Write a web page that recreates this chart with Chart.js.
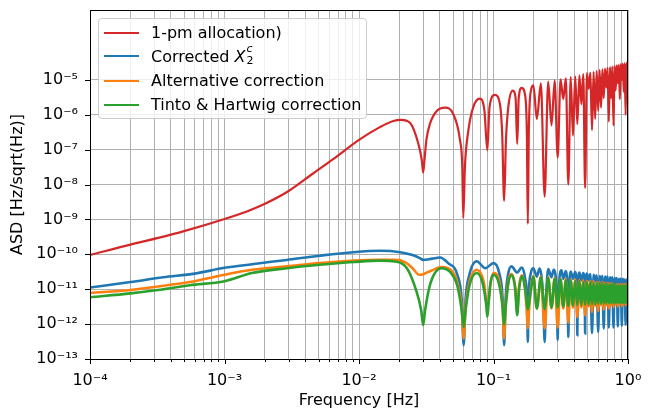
<!DOCTYPE html>
<html>
<head>
<meta charset="utf-8">
<script src="https://cdn.jsdelivr.net/npm/chart.js@4"></script>
<style>
  body { margin: 0; background: #fff; }
  #wrap { position: relative; width: 653px; height: 412px; }
  #legend {
    position: absolute; left: 98px; top: 18px; width: 267px; height: 99px;
    background: rgba(255,255,255,0.8); border: 1px solid #cccccc; border-radius: 4px;
    font-family: 'DejaVu Sans', sans-serif; font-size: 16px; color: #000;
  }
  .row { position: absolute; left: 0; height: 20px; width: 100%; }
  .row .sw { position: absolute; left: 5px; top: 9px; width: 35px; height: 2px; }
  .row .tx { position: absolute; left: 52px; top: 0px; line-height: 19px; white-space: nowrap; }
  .ss { display: inline-block; position: relative; width: 10px; height: 16px; }
  .ss span { position: absolute; left: 1px; font-size: 11px; line-height: 11px; font-style: italic; }
  .ss .up { top: -3px; }
  .ss .dn { top: 9px; font-style: normal; }
</style>
</head>
<body>
<div id="wrap">
  <canvas id="myChart" width="653" height="412"></canvas>
  <div id="legend"></div>
</div>
<script>
// [frequency Hz, ASD] pairs
var allocation = [
  [1e-4, 9.5e-11], [2e-4, 1.9e-10], [3.16e-4, 2.9e-10], [5e-4, 4.6e-10], [1e-3, 1.03e-9],
  [1.5e-3, 1.75e-9], [2e-3, 2.8e-9], [3e-3, 6.5e-9], [4.5e-3, 2e-8], [6.5e-3, 5.5e-8],
  [1e-2, 1.9e-7], [0.0143, 4.4e-7], [0.018, 6.6e-7],
  [0.0205, 7.1e-7], [0.024, 5.8e-7], [0.0276, 1.5e-7], [0.0293, 5e-8], [0.030, 2.2e-8],
  [0.0308, 6e-8], [0.0317, 1.9e-7], [0.0337, 5.5e-7], [0.038, 1.3e-6], [0.0436, 1.6e-6],
  [0.050, 1.07e-6], [0.0563, 1.9e-7], [0.0586, 3.2e-8], [0.0596, 1.1e-9], [0.0613, 3.2e-8],
  [0.065, 3.5e-7], [0.0707, 1.65e-6], [0.079, 2.9e-6], [0.0856, 1.3e-6], [0.090, 9.5e-8],
  [0.0934, 1.65e-6], [0.1025, 3.7e-6], [0.1117, 2e-6], [0.116, 2.9e-7], [0.120, 3.4e-9],
  [0.1238, 1.9e-7], [0.1288, 1.65e-6], [0.139, 4.9e-6], [0.146, 3e-6], [0.150, 1.45e-7],
  [0.154, 3e-6], [0.162, 5.9e-6], [0.172, 3.5e-6], [0.177, 3e-7], [0.180, 7.4e-10],
  [0.183, 3e-7], [0.190, 5e-6], [0.198, 6.9e-6], [0.21, 7.6e-7], [0.225, 7.9e-6],
  [0.24, 4.5e-9], [0.255, 8.9e-6], [0.27, 4.9e-7], [0.285, 9.5e-6], [0.30, 5.9e-8],
  [0.315, 1.03e-5], [0.33, 2.8e-6], [0.345, 1.1e-5], [0.36, 1e-8], [0.375, 1.2e-5],
  [0.39, 2.5e-7], [0.405, 1.25e-5], [0.42, 5.4e-7], [0.435, 1.35e-5], [0.45, 2e-6],
  [0.465, 1.45e-5], [0.48, 8e-9], [0.495, 1.55e-5], [0.51, 5.5e-6], [0.525, 1.6e-5],
  [0.54, 3.6e-7], [0.555, 1.7e-5], [0.57, 7.6e-7], [0.585, 1.8e-5], [0.60, 1.3e-6],
  [0.615, 1.9e-5], [0.63, 1.6e-6], [0.645, 2e-5], [0.66, 3e-6], [0.675, 2.1e-5],
  [0.69, 6e-6], [0.705, 2.2e-5], [0.72, 6.3e-7], [0.735, 2.3e-5], [0.75, 3e-6],
  [0.765, 2.4e-5], [0.78, 4.9e-7], [0.795, 2.5e-5], [0.81, 5e-6], [0.825, 2.6e-5],
  [0.84, 8e-6], [0.855, 2.7e-5], [0.87, 2.8e-6], [0.885, 2.8e-5], [0.90, 1e-5],
  [0.915, 2.9e-5], [0.93, 4.5e-6], [0.945, 3e-5], [0.96, 1e-6], [0.975, 3.1e-5],
  [0.99, 8e-6], [1.0, 3.2e-5]
];
var correctedX2c = [
  [1e-4, 1.12e-11], [2e-4, 1.6e-11], [3.5e-4, 2.2e-11], [6e-4, 2.8e-11], [1e-3, 4.1e-11],
  [1.6e-3, 5.2e-11], [2.9e-3, 6.9e-11], [5.1e-3, 9.1e-11], [9.1e-3, 1.15e-10], [0.0143, 1.26e-10],
  [0.0202, 1.15e-10], [0.025, 9.5e-11], [0.0283, 7.8e-11], [0.030, 6.9e-11], [0.035, 7.5e-11],
  [0.040, 8.1e-11], [0.046, 5.6e-11], [0.054, 2.5e-11], [0.058, 5e-12], [0.060, 2.5e-13],
  [0.062, 5e-12], [0.066, 2.5e-11], [0.075, 6.3e-11], [0.087, 4e-11], [0.100, 5.6e-11],
  [0.110, 3e-11], [0.117, 5e-12], [0.120, 2.5e-13], [0.123, 5e-12], [0.128, 2.5e-11],
  [0.136, 4.5e-11], [0.150, 3e-11], [0.162, 4.2e-11], [0.172, 2e-11], [0.178, 4e-12],
  [0.180, 3.1e-13], [0.182, 4e-12], [0.190, 3e-11], [0.198, 4e-11], [0.21, 2.3e-11],
  [0.22, 3.9e-11], [0.235, 4e-12], [0.24, 3.1e-13], [0.245, 4e-12], [0.255, 3.8e-11],
  [0.27, 2.2e-11], [0.28, 3.6e-11], [0.297, 4e-12], [0.30, 3.5e-13], [0.303, 4e-12],
  [0.32, 3.5e-11], [0.33, 2e-11], [0.345, 3.3e-11], [0.357, 4e-12], [0.36, 4.3e-13],
  [0.363, 4e-12], [0.375, 3.2e-11], [0.39, 2e-11], [0.405, 3.1e-11], [0.418, 4e-12],
  [0.42, 4.8e-13], [0.422, 4e-12], [0.435, 3e-11], [0.45, 1.8e-11], [0.465, 2.9e-11],
  [0.478, 5e-12], [0.48, 5.4e-13], [0.482, 5e-12], [0.495, 2.8e-11], [0.51, 1.8e-11],
  [0.525, 2.7e-11], [0.54, 5.5e-13], [0.555, 2.6e-11], [0.57, 1.7e-11], [0.585, 2.5e-11],
  [0.60, 6e-13], [0.615, 2.4e-11], [0.63, 1.6e-11], [0.645, 2.4e-11], [0.66, 7.5e-13],
  [0.675, 2.3e-11], [0.69, 1.5e-11], [0.705, 2.3e-11], [0.72, 8e-13], [0.735, 2.2e-11],
  [0.75, 1.5e-11], [0.765, 2.2e-11], [0.78, 8e-13], [0.795, 2.1e-11], [0.81, 1.4e-11],
  [0.825, 2.1e-11], [0.84, 8.5e-13], [0.855, 2e-11], [0.87, 1.4e-11], [0.885, 2e-11],
  [0.90, 9e-13], [0.915, 2e-11], [0.93, 1.3e-11], [0.945, 1.9e-11], [0.96, 9.6e-13],
  [0.975, 1.9e-11], [0.99, 1.3e-11], [1.0, 1.9e-11]
];
var alternative = [
  [1e-4, 7.9e-12], [2e-4, 9.5e-12], [3.2e-4, 1.2e-11], [5.5e-4, 1.6e-11], [1e-3, 2.6e-11],
  [1.6e-3, 3.6e-11], [2.9e-3, 4.5e-11], [5.1e-3, 5.6e-11], [9.1e-3, 6.6e-11], [0.0143, 6.9e-11],
  [0.0185, 6.9e-11], [0.022, 6e-11], [0.025, 4e-11], [0.028, 2.6e-11], [0.030, 2.7e-11],
  [0.035, 3.5e-11], [0.041, 4.3e-11], [0.048, 3.6e-11], [0.054, 1.5e-11], [0.058, 3e-12],
  [0.060, 3.9e-13], [0.062, 3e-12], [0.066, 1.5e-11], [0.075, 3.6e-11], [0.085, 1.5e-11],
  [0.090, 3e-12], [0.095, 1.5e-11], [0.100, 2.9e-11], [0.110, 1.8e-11], [0.117, 3e-12],
  [0.120, 3.9e-13], [0.123, 3e-12], [0.130, 2e-11], [0.136, 2.7e-11], [0.145, 1.2e-11],
  [0.150, 2.5e-12], [0.155, 1.2e-11], [0.162, 2.5e-11], [0.172, 1e-11], [0.177, 2e-12],
  [0.180, 7.5e-13], [0.183, 2e-12], [0.190, 1.2e-11], [0.198, 2.4e-11], [0.21, 2.8e-12],
  [0.225, 2.3e-11], [0.24, 7.5e-13], [0.255, 2.2e-11], [0.27, 2.8e-12], [0.285, 2.1e-11],
  [0.30, 8e-13], [0.315, 2e-11], [0.33, 2.8e-12], [0.345, 2e-11], [0.36, 1.1e-12],
  [0.375, 1.9e-11], [0.39, 3e-12], [0.405, 1.9e-11], [0.42, 1.6e-12], [0.435, 1.8e-11],
  [0.45, 3e-12], [0.465, 1.8e-11], [0.48, 1.8e-12], [0.495, 1.7e-11], [0.51, 3.2e-12],
  [0.525, 1.7e-11], [0.54, 2.2e-12], [0.555, 1.7e-11], [0.57, 3.3e-12], [0.585, 1.6e-11],
  [0.60, 2.4e-12], [0.615, 1.6e-11], [0.63, 3.4e-12], [0.645, 1.6e-11], [0.66, 2.6e-12],
  [0.675, 1.5e-11], [0.69, 3.5e-12], [0.705, 1.5e-11], [0.72, 2.8e-12], [0.735, 1.5e-11],
  [0.75, 3.5e-12], [0.765, 1.5e-11], [0.78, 3e-12], [0.795, 1.4e-11], [0.81, 3.6e-12],
  [0.825, 1.4e-11], [0.84, 3.1e-12], [0.855, 1.4e-11], [0.87, 3.7e-12], [0.885, 1.4e-11],
  [0.90, 3.2e-12], [0.915, 1.4e-11], [0.93, 3.8e-12], [0.945, 1.4e-11], [0.96, 3.4e-12],
  [0.975, 1.4e-11], [0.99, 3.8e-12], [1.0, 1.4e-11]
];
var tintoHartwig = [
  [1e-4, 5.9e-12], [2e-4, 7.6e-12], [3.2e-4, 9.5e-12], [5.5e-4, 1.3e-11], [1e-3, 1.7e-11],
  [1.6e-3, 2.9e-11], [2.9e-3, 4e-11], [5.1e-3, 5e-11], [9.1e-3, 6e-11], [0.0143, 6.6e-11],
  [0.0185, 6.2e-11], [0.0227, 4e-11], [0.0266, 9.3e-12], [0.029, 2.5e-12], [0.030, 9.3e-13],
  [0.031, 2.5e-12], [0.034, 1.5e-11], [0.041, 4e-11], [0.048, 3e-11], [0.054, 1.2e-11],
  [0.058, 2.5e-12], [0.060, 8.3e-13], [0.062, 2.5e-12], [0.066, 1.2e-11], [0.075, 2.9e-11],
  [0.083, 1.5e-11], [0.088, 4e-12], [0.090, 1.6e-12], [0.092, 4e-12], [0.095, 1.5e-11],
  [0.100, 2.6e-11], [0.110, 1.4e-11], [0.117, 3e-12], [0.120, 9.6e-13], [0.123, 3e-12],
  [0.130, 1.8e-11], [0.137, 2.5e-11], [0.145, 1e-11], [0.150, 1.8e-12], [0.155, 1e-11],
  [0.163, 2.4e-11], [0.172, 1e-11], [0.180, 2.6e-12], [0.190, 1e-11], [0.198, 2.3e-11],
  [0.21, 2.8e-12], [0.225, 2.2e-11], [0.24, 2.7e-12], [0.255, 2.1e-11], [0.27, 3e-12],
  [0.285, 2e-11], [0.30, 3e-12], [0.315, 1.9e-11], [0.33, 3.2e-12], [0.345, 1.8e-11],
  [0.36, 3.3e-12], [0.375, 1.8e-11], [0.39, 3.4e-12], [0.405, 1.7e-11], [0.42, 3.5e-12],
  [0.435, 1.7e-11], [0.45, 3.5e-12], [0.465, 1.6e-11], [0.48, 3.6e-12], [0.495, 1.6e-11],
  [0.51, 3.6e-12], [0.525, 1.6e-11], [0.54, 3.7e-12], [0.555, 1.5e-11], [0.57, 3.7e-12],
  [0.585, 1.5e-11], [0.60, 3.8e-12], [0.615, 1.5e-11], [0.63, 3.8e-12], [0.645, 1.5e-11],
  [0.66, 3.8e-12], [0.675, 1.4e-11], [0.69, 3.9e-12], [0.705, 1.4e-11], [0.72, 3.9e-12],
  [0.735, 1.4e-11], [0.75, 3.9e-12], [0.765, 1.4e-11], [0.78, 4e-12], [0.795, 1.4e-11],
  [0.81, 4e-12], [0.825, 1.3e-11], [0.84, 4e-12], [0.855, 1.3e-11], [0.87, 4e-12],
  [0.885, 1.3e-11], [0.90, 4e-12], [0.915, 1.3e-11], [0.93, 4e-12], [0.945, 1.3e-11],
  [0.96, 4e-12], [0.975, 1.3e-11], [0.99, 4e-12], [1.0, 1.3e-11]
];

var seriesNames = ['1-pm allocation)', 'Corrected X₂ᶜ', 'Alternative correction', 'Tinto & Hartwig correction'];
var seriesColors = ['#d62728', '#1f77b4', '#ff7f0e', '#2ca02c'];

// axis ticks
var xDecades = [1e-4, 1e-3, 1e-2, 1e-1, 1];
var xMinorSteps = [2, 3, 4, 5, 6, 7, 8, 9];
var yDecades = [1e-13, 1e-12, 1e-11, 1e-10, 1e-9, 1e-8, 1e-7, 1e-6, 1e-5];

var sup = { '-': '⁻', '0': '⁰', '1': '¹', '2': '²', '3': '³', '4': '⁴', '5': '⁵', '6': '⁶', '7': '⁷', '8': '⁸', '9': '⁹' };
function powLabel(v) {
    var e = String(Math.round(Math.log10(v)));
    return '10' + e.split('').map(function (c) { return sup[c]; }).join('');
}
function isDecade(v) {
    return Math.abs(Math.log10(v) - Math.round(Math.log10(v))) < 1e-6;
}

var xTicks = [];
xDecades.forEach(function (d, i) {
    xTicks.push(d);
    if (i < xDecades.length - 1) xMinorSteps.forEach(function (m) { xTicks.push(d * m); });
});

function toXY(pairs) {
    return pairs.map(function (p) { return { x: p[0], y: p[1] }; });
}

var frame = {
    id: 'frame',
    afterDraw: function (chart) {
        var ctx = chart.ctx, a = chart.chartArea, x = chart.scales.x, y = chart.scales.y;
        ctx.save();
        ctx.strokeStyle = '#000';
        ctx.lineWidth = 1;
        ctx.beginPath();
        x.ticks.forEach(function (t) {
            var px = Math.round(x.getPixelForValue(t.value)) + 0.5;
            ctx.moveTo(px, a.bottom);
            ctx.lineTo(px, a.bottom + (t.major ? 5 : 3));
        });
        y.ticks.forEach(function (t) {
            var py = Math.round(y.getPixelForValue(t.value)) + 0.5;
            ctx.moveTo(a.left, py);
            ctx.lineTo(a.left - 5, py);
        });
        ctx.stroke();
        ctx.strokeRect(a.left + 0.5, a.top + 0.5, a.right - a.left - 1, a.bottom - a.top);
        ctx.restore();
    }
};

Chart.defaults.font.family = "'DejaVu Sans', sans-serif";
Chart.defaults.font.size = 16;
Chart.defaults.color = '#000';

var chart1 = document.getElementById('myChart');
var myChart = new Chart(chart1, {
    type: 'line',
    data: {
        datasets: [allocation, correctedX2c, alternative, tintoHartwig].map(function (s, i) {
            return {
                label: seriesNames[i],
                data: toXY(s),
                borderColor: seriesColors[i],
                backgroundColor: seriesColors[i],
                borderWidth: i === 0 ? 2.2 : 2.6,
                pointRadius: 0,
                cubicInterpolationMode: 'monotone',
                order: 4 - i
            };
        })
    },
    options: {
        responsive: false,
        animation: false,
        devicePixelRatio: 1,
        parsing: false,
        layout: { padding: { top: 10, right: 25, left: 0, bottom: 0 } },
        plugins: {
            legend: { display: false },
            tooltip: { enabled: false }
        },
        scales: {
            x: {
                type: 'logarithmic',
                min: 1e-4,
                max: 1,
                afterBuildTicks: function (scale) {
                    scale.ticks = xTicks.map(function (v) { return { value: v, major: isDecade(v) }; });
                },
                afterFit: function (scale) {
                    scale.height = 53;
                    scale.paddingLeft = 0;
                    scale.paddingRight = 0;
                },
                ticks: {
                    autoSkip: false,
                    maxRotation: 0,
                    padding: 12,
                    callback: function (v) { return isDecade(v) ? powLabel(v) : ''; }
                },
                grid: { color: '#b0b0b0', lineWidth: 1, drawTicks: false },
                border: { display: false },
                title: { display: true, text: 'Frequency [Hz]', padding: { top: 2, bottom: 2 } }
            },
            y: {
                type: 'logarithmic',
                min: 1e-13,
                max: 1e-3,
                afterBuildTicks: function (scale) {
                    scale.ticks = yDecades.map(function (v) { return { value: v, major: true }; });
                },
                afterFit: function (scale) {
                    scale.width = 90;
                    scale.paddingTop = 0;
                    scale.paddingBottom = 0;
                },
                ticks: {
                    autoSkip: false,
                    padding: 12,
                    callback: function (v) { return powLabel(v); }
                },
                grid: { color: '#b0b0b0', lineWidth: 1, drawTicks: false },
                border: { display: false },
                title: { display: true, text: 'ASD [Hz/sqrt(Hz)]', padding: { top: 8, bottom: 4 } }
            }
        }
    },
    plugins: [frame]
});

// legend drawn as html inside the axes, like matplotlib's upper-left legend
var legendHtml = [
    '1-pm allocation)',
    'Corrected <i>X</i><span class="ss"><span class="up">c</span><span class="dn">2</span></span>',
    'Alternative correction',
    'Tinto &amp; Hartwig correction'
];
var rowTops = [4, 27, 52, 76];
var legend = document.getElementById('legend');
myChart.data.datasets.forEach(function (ds, i) {
    var row = document.createElement('div');
    row.className = 'row';
    row.style.top = rowTops[i] + 'px';
    row.innerHTML = '<div class="sw" style="background:' + ds.borderColor + '"></div><div class="tx">' + legendHtml[i] + '</div>';
    legend.appendChild(row);
});
</script>
</body>
</html>
